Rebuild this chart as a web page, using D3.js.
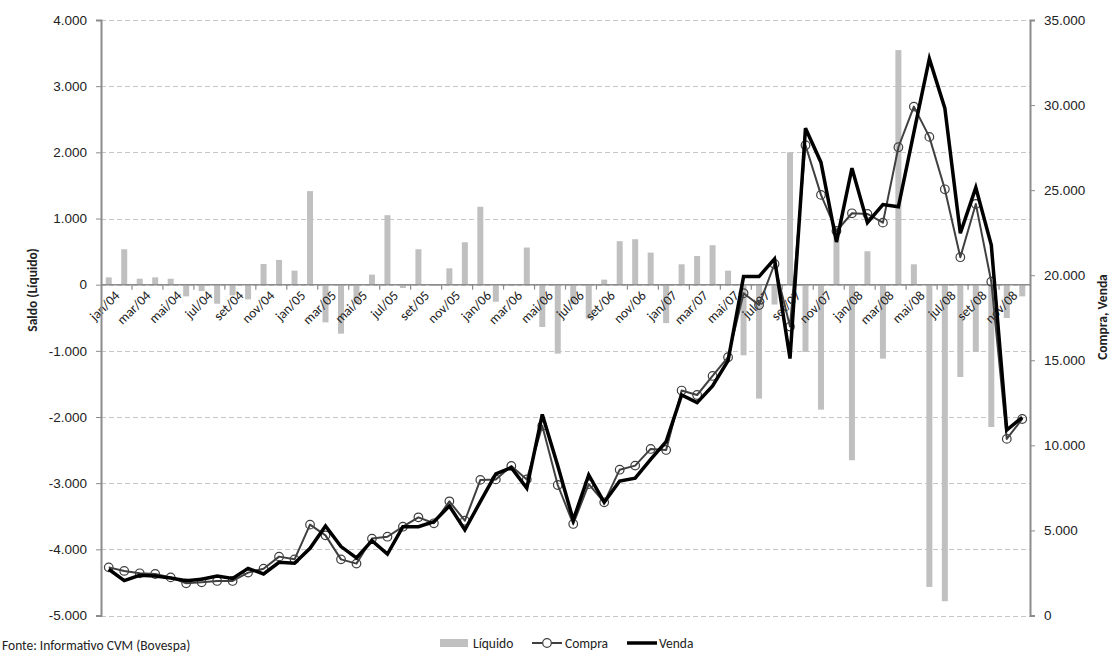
<!DOCTYPE html>
<html>
<head>
<meta charset="utf-8">
<script src="https://cdn.jsdelivr.net/npm/d3@7"></script>
<style>
  html, body { margin: 0; padding: 0; background: #fff; }
  svg { display: block; font-family: Carlito, Lato, "Liberation Sans", sans-serif; }
</style>
</head>
<body>
<svg id="chart" width="1114" height="653"></svg>
<script>
// Monthly series, jan/2004 – dez/2008
const years = ["04", "05", "06", "07", "08"];
const monthNames = ["jan", "fev", "mar", "abr", "mai", "jun", "jul", "ago", "set", "out", "nov", "dez"];
const months = years.flatMap(y => monthNames.map(m => `${m}/${y}`));

// Saldo líquido (left axis)
const liquido = [
  110, 535, 90, 110, 90, -177, -96, -288, -162, -222, 313, 374,
  212, 1414, -570, -740, -287, 152, 1050, -50, 535, -20, 247, 641,
  1177, -258, -20, 561, -640, -1042, -295, -514, 76, 657, 687, 485,
  -581, 308, 434, 596, 212, -1068, -1722, -300, 2000, -1018, -1889, 846,
  -2654, 505, -1118, 3545, 308, -4568, -4784, -1396, -1018, -2151, -504, -177
];

// Compra (right axis)
const compra = [
  2830, 2620, 2480, 2440, 2240, 1890, 1950, 2030, 2030, 2520, 2750, 3460,
  3300, 5340, 4710, 3300, 3050, 4520, 4630, 5220, 5770, 5420, 6710, 5570,
  7970, 8000, 8790, 8000, 11150, 7670, 5380, 7720, 6650, 8570, 8810, 9790,
  9730, 13220, 12960, 14080, 15180, 18940, 18250, 20660, 16980, 27640, 24720, 22600,
  23640, 23600, 23090, 27520, 29910, 28130, 25050, 21060, 24190, 19620, 10380, 11550
];

// Venda (right axis)
const venda = [
  2720, 2050, 2360, 2320, 2200, 2050, 2130, 2320, 2180, 2770, 2440, 3130,
  3070, 3950, 5260, 4050, 3390, 4400, 3610, 5220, 5220, 5510, 6440, 5030,
  6690, 8320, 8690, 7480, 11820, 8800, 5610, 8260, 6650, 7900, 8070, 9180,
  10220, 12960, 12510, 13490, 14980, 19920, 19920, 20960, 15100, 28640, 26630, 21950,
  26290, 23090, 24150, 24020, 28400, 32730, 29820, 22470, 25150, 21780, 10900, 11650
];

const leftTicks = [-5000, -4000, -3000, -2000, -1000, 0, 1000, 2000, 3000, 4000];
const rightTicks = [0, 5000, 10000, 15000, 20000, 25000, 30000, 35000];

const ptBR = d3.formatLocale({ decimal: ",", thousands: ".", grouping: [3], currency: ["", ""], minus: "-" });
const fmt = ptBR.format(",.0f");

const FS = 13.5;
const svg = d3.select("#chart");
const m = { left: 101, right: 1030, top: 20, bottom: 615.5 };

const xc = d3.scaleBand().domain(months).range([m.left, m.right]);
const yL = d3.scaleLinear().domain([-5000, 4000]).range([m.bottom, m.top]);
const yR = d3.scaleLinear().domain([0, 35000]).range([m.bottom, m.top]);
const cx = i => xc(months[i]) + xc.bandwidth() / 2;

// Gridlines
svg.append("g")
  .selectAll("line").data(leftTicks).join("line")
  .attr("x1", m.left).attr("x2", m.right)
  .attr("y1", d => Math.round(yL(d)) + 0.5).attr("y2", d => Math.round(yL(d)) + 0.5)
  .attr("stroke", "#c6c6c6").attr("stroke-width", 1.2)
  .attr("stroke-dasharray", "5,3");

// Bars
svg.append("g")
  .selectAll("rect").data(liquido).join("rect")
  .attr("x", (d, i) => cx(i) - 3)
  .attr("width", 6)
  .attr("y", d => Math.min(yL(d), yL(0)))
  .attr("height", d => Math.abs(yL(d) - yL(0)))
  .attr("fill", "#c0c0c0");

// Category axis at zero
const zeroY = yL(0);
svg.append("line")
  .attr("x1", m.left).attr("x2", m.right).attr("y1", zeroY).attr("y2", zeroY)
  .attr("stroke", "#8c8c8c").attr("stroke-width", 1.5);
svg.append("g")
  .selectAll("line").data(months.filter((d, i) => i % 2 === 0 && i > 0)).join("line")
  .attr("x1", d => xc(d)).attr("x2", d => xc(d))
  .attr("y1", zeroY).attr("y2", zeroY + 5)
  .attr("stroke", "#8c8c8c").attr("stroke-width", 1.2);
svg.append("g")
  .selectAll("text").data(months.filter((d, i) => i % 2 === 0)).join("text")
  .attr("transform", d => `translate(${xc(d) + xc.bandwidth() / 2 + 5},${zeroY + 5}) rotate(-45)`)
  .attr("text-anchor", "end").attr("dy", "0.7em")
  .attr("font-size", FS).attr("fill", "#222")
  .text(d => d);

// Lines
const lineC = d3.line().x((d, i) => cx(i)).y(d => yR(d));
svg.append("path").datum(compra).attr("d", lineC)
  .attr("fill", "none").attr("stroke", "#404040").attr("stroke-width", 2).attr("stroke-linejoin", "round");
svg.append("g")
  .selectAll("circle").data(compra).join("circle")
  .attr("cx", (d, i) => cx(i)).attr("cy", d => yR(d)).attr("r", 4.3)
  .attr("fill", "none").attr("stroke", "#404040").attr("stroke-width", 1.2);
svg.append("path").datum(venda).attr("d", lineC)
  .attr("fill", "none").attr("stroke", "#000").attr("stroke-width", 3.5).attr("stroke-linejoin", "miter");

// Left axis
const axL = svg.append("g").attr("transform", `translate(${m.left},0)`)
  .call(d3.axisLeft(yL).tickValues(leftTicks).tickFormat(fmt).tickSize(5).tickPadding(9));
axL.select(".domain").attr("stroke", "#8c8c8c").attr("stroke-width", 2);
axL.selectAll(".tick line").attr("stroke", "#8c8c8c");
axL.selectAll("text").attr("font-size", FS).attr("fill", "#222").attr("font-family", null);

// Right axis
const axR = svg.append("g").attr("transform", `translate(${m.right},0)`)
  .call(d3.axisRight(yR).tickValues(rightTicks).tickFormat(fmt).tickSize(5).tickPadding(9));
axR.select(".domain").attr("stroke", "#8c8c8c").attr("stroke-width", 2);
axR.selectAll(".tick line").attr("stroke", "#8c8c8c");
axR.selectAll("text").attr("font-size", FS).attr("fill", "#222").attr("font-family", null);

// Axis titles
svg.append("text")
  .attr("transform", `translate(37,290) rotate(-90)`)
  .attr("text-anchor", "middle").attr("font-size", FS).attr("font-weight", "bold").attr("fill", "#222")
  .text("Saldo (Líquido)");
svg.append("text")
  .attr("transform", `translate(1107,317) rotate(-90)`)
  .attr("text-anchor", "middle").attr("font-size", FS).attr("font-weight", "bold").attr("fill", "#222")
  .text("Compra, Venda");

// Legend
const lg = svg.append("g").attr("font-size", FS).attr("fill", "#222");
lg.append("rect").attr("x", 440).attr("y", 639).attr("width", 28).attr("height", 8).attr("fill", "#c0c0c0");
lg.append("text").attr("x", 473).attr("y", 648).text("Líquido");
lg.append("line").attr("x1", 532).attr("x2", 562).attr("y1", 643).attr("y2", 643)
  .attr("stroke", "#404040").attr("stroke-width", 2);
lg.append("circle").attr("cx", 547).attr("cy", 643).attr("r", 4.3)
  .attr("fill", "#fff").attr("stroke", "#404040").attr("stroke-width", 1.2);
lg.append("text").attr("x", 565).attr("y", 648).text("Compra");
lg.append("line").attr("x1", 627).attr("x2", 657).attr("y1", 643).attr("y2", 643)
  .attr("stroke", "#000").attr("stroke-width", 3.5);
lg.append("text").attr("x", 659).attr("y", 648).text("Venda");

// Source note
svg.append("text").attr("x", 2).attr("y", 650).attr("font-size", FS).attr("fill", "#222")
  .text("Fonte: Informativo CVM (Bovespa)");
</script>
</body>
</html>
